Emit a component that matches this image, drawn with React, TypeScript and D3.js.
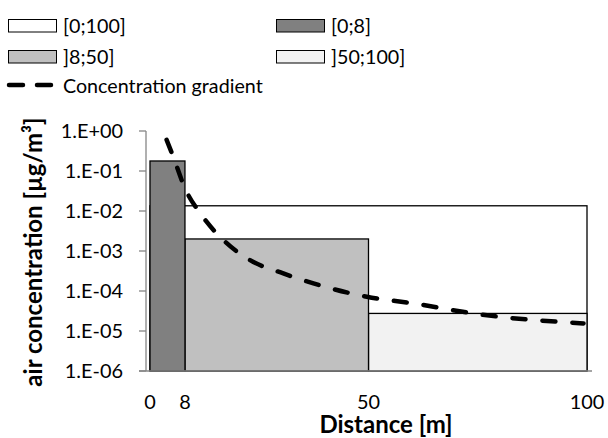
import React from "react";
import * as d3 from "d3";

const binLabels = ["[0;100]", "[0;8]", "]8;50]", "]50;100]"];
const binStart = [0, 0, 8, 50];
const binEnd = [100, 8, 50, 100];
const binValue = [0.0135, 0.178, 0.002, 2.75e-5];
const binFill = ["#ffffff", "#808080", "#c0c0c0", "#f2f2f2"];
// drawing order (back to front)
const drawOrder = [0, 3, 2, 1];

const gradientDistance = [3.8, 5.3, 8, 11.8, 17.2, 22.9, 30.5, 37.4, 49.6, 60.3, 75.5, 99.2];
const gradientValue = [0.6, 0.23, 0.037, 0.0079, 0.0017, 0.00059, 0.000275, 0.000155, 7.2e-5, 4.9e-5, 2.6e-5, 1.55e-5];
const gradientLabel = "Concentration gradient";

const yTicks = [1, 1e-1, 1e-2, 1e-3, 1e-4, 1e-5, 1e-6];
const yTickLabels = ["1.E+00", "1.E-01", "1.E-02", "1.E-03", "1.E-04", "1.E-05", "1.E-06"];
const xTicks = [0, 8, 50, 100];

const xTitle = "Distance [m]";
const yTitle = "air concentration [µg/m³]";

const W = 608;
const H = 438;
const FONT = "Lato, 'Open Sans', sans-serif";
const AXIS = "#868686";

export default function App() {
  const x = d3.scaleLinear().domain([0, 100]).range([150, 587]);
  const y = d3.scaleLog().domain([1e-6, 1]).range([371, 131]);

  const line = d3
    .line<number>()
    .x((_, i) => x(gradientDistance[i]))
    .y((d) => y(d))
    .curve(d3.curveMonotoneX);

  const legendPos = [
    { lx: 8, ly: 19 },
    { lx: 276, ly: 19 },
    { lx: 8, ly: 50 },
    { lx: 276, ly: 50 },
  ];

  return (
    <svg
      width={W}
      height={H}
      style={{ position: "absolute", left: 0, top: 0, background: "#fff" }}
      fontFamily={FONT}
    >
      {/* legend */}
      {binLabels.map((lab, i) => (
        <g key={lab}>
          <rect
            x={legendPos[i].lx + 0.5}
            y={legendPos[i].ly + 0.5}
            width={48}
            height={12.5}
            fill={binFill[i]}
            stroke="#000"
            strokeWidth={1}
          />
          <text x={legendPos[i].lx + 55} y={legendPos[i].ly + 13.5} fontSize={19.7} fill="#000">
            {lab}
          </text>
        </g>
      ))}
      <line x1={9} x2={51} y1={85} y2={85} stroke="#000" strokeWidth={4.5} strokeLinecap="round" strokeDasharray="14 14" />
      <text x={63} y={92.5} fontSize={19.7} fill="#000">
        {gradientLabel}
      </text>

      {/* bars */}
      {drawOrder.map((i) => (
        <rect
          key={i}
          x={x(binStart[i])}
          y={y(binValue[i])}
          width={x(binEnd[i]) - x(binStart[i])}
          height={y(1e-6) - y(binValue[i])}
          fill={binFill[i]}
          stroke="#000"
          strokeWidth={1.3}
        />
      ))}

      {/* axes */}
      <line x1={146} x2={146} y1={131} y2={371} stroke={AXIS} strokeWidth={1.3} />
      {yTicks.map((t, i) => (
        <g key={t}>
          <line x1={139} x2={146} y1={y(t)} y2={y(t)} stroke={AXIS} strokeWidth={1.3} />
          <text x={123} y={y(t) + 7} textAnchor="end" fontSize={19.9} fill="#000">
            {yTickLabels[i]}
          </text>
        </g>
      ))}
      <line x1={139} x2={592} y1={371} y2={371} stroke={AXIS} strokeWidth={1.3} />
      {xTicks.map((t) => (
        <text key={t} x={x(t)} y={408.5} textAnchor="middle" fontSize={19.9} fill="#000">
          {t}
        </text>
      ))}

      {/* gradient */}
      <path
        d={line(gradientValue) || ""}
        fill="none"
        stroke="#000"
        strokeWidth={4.5}
        strokeLinecap="round"
        strokeDasharray="13 17"
      />

      {/* titles */}
      <text x={386} y={432.5} textAnchor="middle" fontSize={24} fontWeight="bold" fill="#000">
        {xTitle}
      </text>
      <text
        transform={`translate(42,252) rotate(-90)`}
        textAnchor="middle"
        fontSize={24}
        fontWeight="bold"
        fill="#000"
      >
        {yTitle}
      </text>
    </svg>
  );
}
